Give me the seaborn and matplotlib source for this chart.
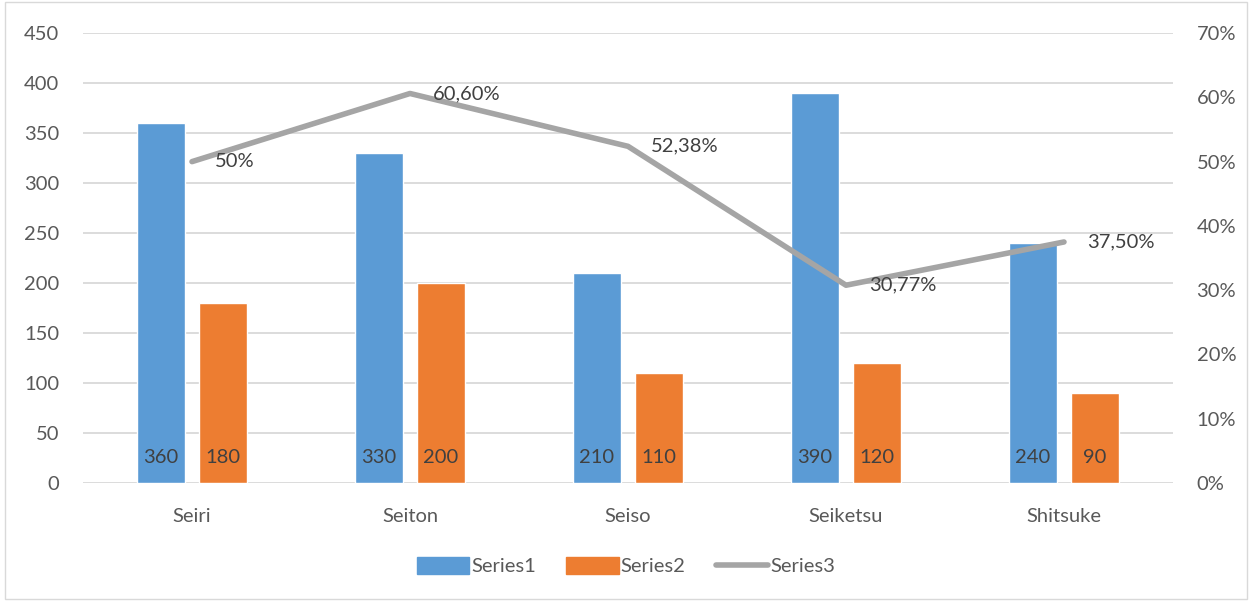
import numpy as np
import pandas as pd
import matplotlib
matplotlib.use('Agg')
import matplotlib.pyplot as plt
import seaborn as sns
from matplotlib.patches import Patch
from matplotlib.lines import Line2D
from matplotlib.ticker import FuncFormatter

categories = ['Seiri', 'Seiton', 'Seiso', 'Seiketsu', 'Shitsuke']
series1 = [360, 330, 210, 390, 240]
series2 = [180, 200, 110, 120, 90]
series3 = [0.50, 0.606, 0.5238, 0.3077, 0.375]
series3_labels = ['50%', '60,60%', '52,38%', '30,77%', '37,50%']

blue, orange, grey = '#5B9BD5', '#ED7D31', '#A5A5A5'
txt = '#595959'
fs = 14.5

sns.set_theme(style='white')
plt.rcParams['font.family'] = ['Lato', 'DejaVu Sans']

df = pd.DataFrame({'cat': categories * 2,
                   'val': series1 + series2,
                   'series': ['Series1'] * 5 + ['Series2'] * 5})

fig = plt.figure(figsize=(12.52, 6.01), dpi=100)
# chart border
fig.patches.append(matplotlib.patches.Rectangle((0.004, 0.003), 0.992, 0.994, transform=fig.transFigure,
                                                fill=False, edgecolor='#D9D9D9', linewidth=1))
ax = fig.add_axes([0.0663, 0.1963, 0.8706, 0.7487])
sns.barplot(data=df, x='cat', y='val', hue='series', palette=[blue, orange],
            width=0.568, gap=0.226, ax=ax, legend=False, saturation=1)
ax.set_ylim(0, 450)
ax.set_yticks(np.arange(0, 451, 50))
ax.set_xlim(-0.5, 4.5)
ax.set_xlabel('')
ax.set_ylabel('')
ax.grid(axis='y', color='#D9D9D9', linewidth=1.3)
ax.set_axisbelow(True)
for s in ax.spines.values():
    s.set_visible(False)
ax.tick_params(axis='y', colors=txt, labelsize=fs, length=0, pad=17)
ax.tick_params(axis='x', colors=txt, labelsize=fs, length=0, pad=18)

# value labels inside the bars, near the bottom
for p in ax.patches:
    h = p.get_height()
    if h > 0:
        ax.text(p.get_x() + p.get_width() / 2, 26, f'{h:.0f}', ha='center', va='center',
                color='#404040', fontsize=fs)

ax2 = ax.twinx()
sns.lineplot(x=np.arange(5), y=series3, ax=ax2, color=grey, linewidth=4, solid_capstyle='round')
ax2.set_ylim(0, 0.7)
ax2.set_yticks(np.arange(0, 0.71, 0.1))
ax2.yaxis.set_major_formatter(FuncFormatter(lambda v, p: f'{v*100:.0f}%'))
ax2.tick_params(axis='y', colors=txt, labelsize=fs, length=0, pad=17)
for s in ax2.spines.values():
    s.set_visible(False)
for i, (v, lab) in enumerate(zip(series3, series3_labels)):
    ax2.annotate(lab, (i, v), xytext=(23, 0), textcoords='offset pixels', va='center', ha='left',
                 color='#404040', fontsize=fs)

handles = [Patch(color=blue, label='Series1'), Patch(color=orange, label='Series2'),
           Line2D([], [], color=grey, linewidth=4, solid_capstyle='round', label='Series3')]
fig.legend(handles=handles, loc='center', bbox_to_anchor=(0.5, 0.058), ncol=3, frameon=False,
           fontsize=fs, labelcolor=txt, handlelength=2.6, handleheight=0.9, columnspacing=1.5,
           handletextpad=0.1)

fig.savefig('out.png', dpi=100)
